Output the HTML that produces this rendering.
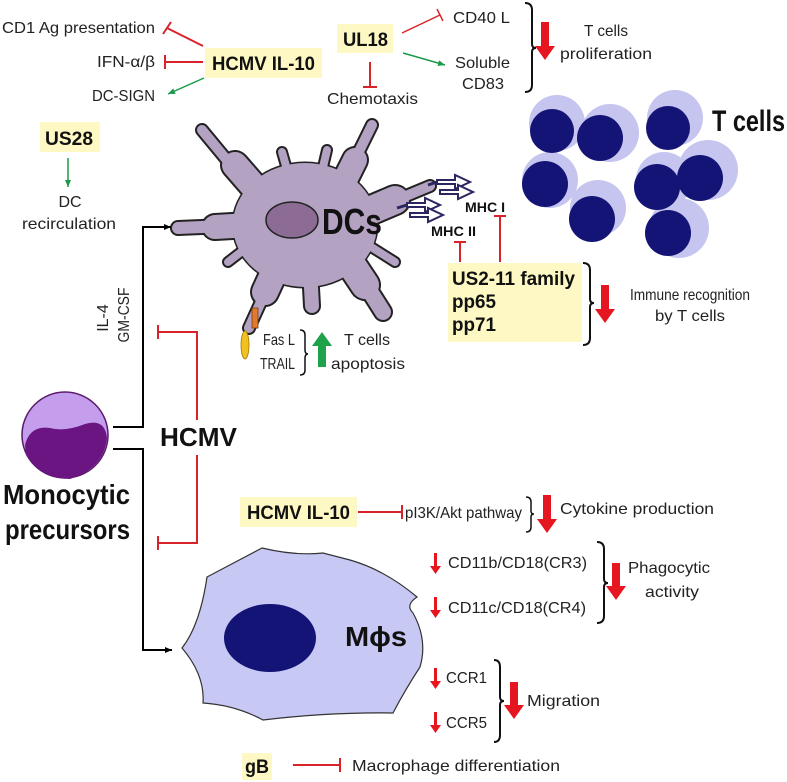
<!DOCTYPE html>
<html><head><meta charset="utf-8"><style>
html,body{margin:0;padding:0;background:#fff;}
svg{display:block;}
text{font-family:"Liberation Sans",sans-serif;fill:#222;}
.b{font-weight:bold;fill:#111;}
</style></head><body>
<svg width="787" height="782" viewBox="0 0 787 782" xmlns="http://www.w3.org/2000/svg">
<defs>
<marker id="ab" markerWidth="8" markerHeight="8" refX="7" refY="4" orient="auto" markerUnits="userSpaceOnUse"><path d="M0,1 L7,4 L0,7 z" fill="#000"/></marker>
<marker id="ag" markerWidth="8" markerHeight="8" refX="7" refY="4" orient="auto" markerUnits="userSpaceOnUse"><path d="M0,1 L7,4 L0,7 z" fill="#1a9a4a"/></marker>
</defs>

<!-- top-left group -->
<text x="2" y="33" font-size="16" textLength="153" lengthAdjust="spacingAndGlyphs">CD1 Ag presentation</text>
<text x="97" y="67" font-size="16" textLength="58" lengthAdjust="spacingAndGlyphs">IFN-α/β</text>
<text x="92" y="101" font-size="16" textLength="63" lengthAdjust="spacingAndGlyphs">DC-SIGN</text>
<line x1="203" y1="46" x2="167" y2="28" stroke="#d9232b" stroke-width="2"/>
<line x1="163" y1="34" x2="171" y2="22" stroke="#d9232b" stroke-width="2"/>
<line x1="203" y1="62" x2="165" y2="62" stroke="#d9232b" stroke-width="2"/>
<line x1="165" y1="55" x2="165" y2="69" stroke="#d9232b" stroke-width="2"/>
<line x1="204" y1="78" x2="168" y2="94" stroke="#1a9a4a" stroke-width="1.5" marker-end="url(#ag)"/>
<rect x="205" y="48" width="117" height="30" fill="#fdf8c4"/>
<text x="212" y="70" font-size="19" class="b" textLength="103" lengthAdjust="spacingAndGlyphs">HCMV IL-10</text>

<rect x="337" y="24" width="56" height="29" fill="#fdf8c4"/>
<text x="343" y="46" font-size="19" class="b" textLength="45" lengthAdjust="spacingAndGlyphs">UL18</text>
<line x1="370" y1="62" x2="370" y2="87" stroke="#d9232b" stroke-width="2"/>
<line x1="363" y1="87" x2="377" y2="87" stroke="#d9232b" stroke-width="2"/>
<text x="327" y="104" font-size="16" textLength="91" lengthAdjust="spacingAndGlyphs">Chemotaxis</text>
<line x1="402" y1="33" x2="440" y2="15" stroke="#d9232b" stroke-width="1.5"/>
<line x1="437" y1="9" x2="443" y2="21" stroke="#d9232b" stroke-width="1.5"/>
<line x1="403" y1="53" x2="445" y2="65" stroke="#1a9a4a" stroke-width="1.5" marker-end="url(#ag)"/>
<text x="453" y="23" font-size="16" textLength="57" lengthAdjust="spacingAndGlyphs">CD40 L</text>
<text x="455" y="68" font-size="16" textLength="55" lengthAdjust="spacingAndGlyphs">Soluble</text>
<text x="462" y="89" font-size="16" textLength="42" lengthAdjust="spacingAndGlyphs">CD83</text>
<path d="M525,3 Q532,3 532,10 L532,44 Q532,48 536,48 Q532,48 532,52 L532,85 Q532,92 525,92" fill="none" stroke="#111" stroke-width="2"/>
<path d="M541,22 L549,22 L549,46 L555,46 L545,60 L535,46 L541,46 z" fill="#e5161f"/>
<text x="584" y="36" font-size="16" textLength="44" lengthAdjust="spacingAndGlyphs">T cells</text>
<text x="560" y="59" font-size="16" textLength="92" lengthAdjust="spacingAndGlyphs">proliferation</text>

<!-- US28 -->
<rect x="40" y="122" width="60" height="30" fill="#fdf8c4"/>
<text x="45" y="145" font-size="19" class="b" textLength="48" lengthAdjust="spacingAndGlyphs">US28</text>
<line x1="68" y1="158" x2="68" y2="187" stroke="#1a9a4a" stroke-width="1.5" marker-end="url(#ag)"/>
<text x="70" y="207" font-size="16" text-anchor="middle">DC</text>
<text x="22" y="229" font-size="16" textLength="94" lengthAdjust="spacingAndGlyphs">recirculation</text>

<!-- T cells -->
<g>
<circle cx="557" cy="123" r="28" fill="#c5c5ef"/>
<circle cx="610" cy="133" r="29" fill="#c5c5ef"/>
<circle cx="675" cy="118" r="28" fill="#c5c5ef"/>
<circle cx="550" cy="180" r="28" fill="#c5c5ef"/>
<circle cx="598" cy="208" r="28" fill="#c5c5ef"/>
<circle cx="664" cy="180" r="28" fill="#c5c5ef"/>
<circle cx="708" cy="170" r="30" fill="#c5c5ef"/>
<circle cx="679" cy="228" r="30" fill="#c5c5ef"/>
<circle cx="552" cy="131" r="22" fill="#141476"/>
<circle cx="600" cy="138" r="23" fill="#141476"/>
<circle cx="668" cy="128" r="22" fill="#141476"/>
<circle cx="545" cy="184" r="23" fill="#141476"/>
<circle cx="592" cy="219" r="23" fill="#141476"/>
<circle cx="657" cy="187" r="23" fill="#141476"/>
<circle cx="700" cy="178" r="23" fill="#141476"/>
<circle cx="668" cy="233" r="23" fill="#141476"/>
</g>
<text x="712" y="131" font-size="30" class="b" textLength="73" lengthAdjust="spacingAndGlyphs">T cells</text>

<!-- DC cell -->
<g stroke-linecap="round" stroke-linejoin="round">
<g stroke="#222" fill="#222">
<ellipse cx="305" cy="225" rx="72" ry="62" stroke-width="3"/>
<line x1="260" y1="200" x2="202" y2="130" stroke-width="14"/>
<line x1="262" y1="196" x2="235" y2="165" stroke-width="30"/>
<line x1="340" y1="190" x2="372" y2="125" stroke-width="14"/>
<line x1="340" y1="190" x2="355" y2="160" stroke-width="28"/>
<line x1="290" y1="180" x2="282" y2="152" stroke-width="12"/>
<line x1="320" y1="180" x2="327" y2="150" stroke-width="12"/>
<line x1="360" y1="215" x2="430" y2="186" stroke-width="14"/>
<line x1="355" y1="217" x2="395" y2="200" stroke-width="32"/>
<line x1="250" y1="225" x2="178" y2="228" stroke-width="16"/>
<line x1="250" y1="225" x2="215" y2="227" stroke-width="28"/>
<line x1="280" y1="260" x2="249" y2="328" stroke-width="14"/>
<line x1="282" y1="255" x2="265" y2="292" stroke-width="30"/>
<line x1="310" y1="270" x2="312" y2="306" stroke-width="18"/>
<line x1="350" y1="260" x2="383" y2="312" stroke-width="20"/>
<line x1="345" y1="255" x2="365" y2="285" stroke-width="32"/>
<line x1="250" y1="245" x2="228" y2="262" stroke-width="12"/>
<line x1="360" y1="240" x2="395" y2="262" stroke-width="12"/>
</g>
<g stroke="#b4a2c2" fill="#b4a2c2">
<ellipse cx="305" cy="225" rx="72" ry="62" stroke-width="0"/>
<line x1="260" y1="200" x2="202" y2="130" stroke-width="10"/>
<line x1="262" y1="196" x2="235" y2="165" stroke-width="26"/>
<line x1="340" y1="190" x2="372" y2="125" stroke-width="10"/>
<line x1="340" y1="190" x2="355" y2="160" stroke-width="24"/>
<line x1="290" y1="180" x2="282" y2="152" stroke-width="8"/>
<line x1="320" y1="180" x2="327" y2="150" stroke-width="8"/>
<line x1="360" y1="215" x2="430" y2="186" stroke-width="10"/>
<line x1="355" y1="217" x2="395" y2="200" stroke-width="28"/>
<line x1="250" y1="225" x2="178" y2="228" stroke-width="12"/>
<line x1="250" y1="225" x2="215" y2="227" stroke-width="24"/>
<line x1="280" y1="260" x2="249" y2="328" stroke-width="10"/>
<line x1="282" y1="255" x2="265" y2="292" stroke-width="26"/>
<line x1="310" y1="270" x2="312" y2="306" stroke-width="14"/>
<line x1="350" y1="260" x2="383" y2="312" stroke-width="16"/>
<line x1="345" y1="255" x2="365" y2="285" stroke-width="28"/>
<line x1="250" y1="245" x2="228" y2="262" stroke-width="8"/>
<line x1="360" y1="240" x2="395" y2="262" stroke-width="8"/>
</g>
</g>
<ellipse cx="292" cy="220" rx="26" ry="18" fill="#8c6b95" stroke="#222" stroke-width="1.5"/>
<text x="322" y="234" font-size="36" class="b" textLength="60" lengthAdjust="spacingAndGlyphs">DCs</text>
<rect x="252" y="308" width="6" height="20" fill="#e07b2e" stroke="#7a3d10" stroke-width="0.8"/>
<ellipse cx="245" cy="345" rx="4" ry="14" fill="#f2c01f" stroke="#a07800" stroke-width="0.8"/>

<!-- MHC arrows -->
<g fill="#fff" stroke="#2a2660" stroke-width="2" stroke-linejoin="miter">
<path d="M437,180 L455,180 L455,175 L470,182 L455,189 L455,184 L437,184 z"/>
<path d="M440,190 L458,190 L458,185 L473,192 L458,199 L458,194 L440,194 z"/>
<path d="M407,203 L425,203 L425,198 L440,205 L425,212 L425,207 L407,207 z"/>
<path d="M410,213 L428,213 L428,208 L443,215 L428,222 L428,217 L410,217 z"/>
</g>
<line x1="428" y1="185" x2="437" y2="182" stroke="#2a2660" stroke-width="3"/>
<line x1="397" y1="208" x2="407" y2="205" stroke="#2a2660" stroke-width="3"/>
<text x="465" y="212" font-size="14" class="b" textLength="40" lengthAdjust="spacingAndGlyphs">MHC I</text>
<text x="431" y="236" font-size="14" class="b" textLength="45" lengthAdjust="spacingAndGlyphs">MHC II</text>
<line x1="460" y1="262" x2="460" y2="242" stroke="#d9232b" stroke-width="2"/>
<line x1="454" y1="242" x2="466" y2="242" stroke="#d9232b" stroke-width="2"/>
<line x1="500" y1="262" x2="500" y2="216" stroke="#d9232b" stroke-width="2"/>
<line x1="494" y1="216" x2="506" y2="216" stroke="#d9232b" stroke-width="2"/>
<rect x="448" y="263" width="134" height="79" fill="#fdf8c4"/>
<text x="452" y="285" font-size="19" class="b" textLength="123" lengthAdjust="spacingAndGlyphs">US2-11 family</text>
<text x="452" y="308" font-size="19" class="b" textLength="44" lengthAdjust="spacingAndGlyphs">pp65</text>
<text x="452" y="331" font-size="19" class="b" textLength="44" lengthAdjust="spacingAndGlyphs">pp71</text>
<path d="M583,263 Q590,263 590,270 L590,299 Q590,303 594,303 Q590,303 590,307 L590,338 Q590,345 583,345" fill="none" stroke="#111" stroke-width="2"/>
<path d="M601,285 L609,285 L609,309 L615,309 L605,323 L595,309 L601,309 z" fill="#e5161f"/>
<text x="630" y="300" font-size="16" textLength="120" lengthAdjust="spacingAndGlyphs">Immune recognition</text>
<text x="655" y="321" font-size="16" textLength="70" lengthAdjust="spacingAndGlyphs">by T cells</text>

<!-- Fas L / TRAIL -->
<text x="263" y="345" font-size="16" textLength="32" lengthAdjust="spacingAndGlyphs">Fas L</text>
<text x="260" y="369" font-size="16" textLength="35" lengthAdjust="spacingAndGlyphs">TRAIL</text>
<path d="M300,330 Q305,330 305,335 L305,350 Q305,354 308,354 Q305,354 305,358 L305,370 Q305,375 300,375" fill="none" stroke="#111" stroke-width="1.5"/>
<path d="M318,367 L326,367 L326,346 L332,346 L322,332 L312,346 L318,346 z" fill="#1fa34a"/>
<text x="344" y="345" font-size="16" textLength="46" lengthAdjust="spacingAndGlyphs">T cells</text>
<text x="331" y="369" font-size="16" textLength="74" lengthAdjust="spacingAndGlyphs">apoptosis</text>

<!-- IL-4 GM-CSF -->
<text transform="translate(108,318) rotate(-90)" font-size="16" text-anchor="middle">IL-4</text>
<text transform="translate(129,315) rotate(-90)" font-size="16" text-anchor="middle" textLength="55" lengthAdjust="spacingAndGlyphs">GM-CSF</text>

<!-- black connectors -->
<polyline points="113,427 143,427 143,227 171,227" fill="none" stroke="#000" stroke-width="2" marker-end="url(#ab)"/>
<polyline points="113,449 143,449 143,650 172,650" fill="none" stroke="#000" stroke-width="2" marker-end="url(#ab)"/>

<!-- HCMV red bracket -->
<polyline points="158,332 197,332 197,420" fill="none" stroke="#d9232b" stroke-width="2"/>
<polyline points="197,455 197,543 158,543" fill="none" stroke="#d9232b" stroke-width="2"/>
<line x1="158" y1="325" x2="158" y2="339" stroke="#d9232b" stroke-width="2"/>
<line x1="158" y1="536" x2="158" y2="550" stroke="#d9232b" stroke-width="2"/>
<text x="160" y="446" font-size="26" class="b" textLength="77" lengthAdjust="spacingAndGlyphs">HCMV</text>

<!-- monocyte -->
<circle cx="65" cy="435" r="43" fill="#c59ded" stroke="#5a1a6a" stroke-width="1.5"/>
<path d="M25,445 Q30,425 50,428 Q65,432 85,424 Q105,418 107,438 Q104,468 70,479 Q40,478 26,455 z" fill="#6a1582"/>
<text x="3" y="504" font-size="28" class="b" textLength="127" lengthAdjust="spacingAndGlyphs">Monocytic</text>
<text x="5" y="539" font-size="28" class="b" textLength="125" lengthAdjust="spacingAndGlyphs">precursors</text>

<!-- HCMV IL-10 lower -->
<rect x="240" y="497" width="117" height="30" fill="#fdf8c4"/>
<text x="247" y="519" font-size="19" class="b" textLength="103" lengthAdjust="spacingAndGlyphs">HCMV IL-10</text>
<line x1="358" y1="512" x2="402" y2="512" stroke="#d9232b" stroke-width="2"/>
<line x1="402" y1="505" x2="402" y2="519" stroke="#d9232b" stroke-width="2"/>
<text x="405" y="518" font-size="16" textLength="117" lengthAdjust="spacingAndGlyphs">pI3K/Akt pathway</text>
<path d="M526,497 Q531,497 531,502 L531,511 Q531,514 534,514 Q531,514 531,517 L531,527 Q531,532 526,532" fill="none" stroke="#111" stroke-width="1.5"/>
<path d="M543,495 L551,495 L551,519 L557,519 L547,533 L537,519 L543,519 z" fill="#e5161f"/>
<text x="560" y="514" font-size="16" textLength="154" lengthAdjust="spacingAndGlyphs">Cytokine production</text>

<!-- macrophage -->
<path d="M207,577 L262,548 Q295,556 323,553 L350,560 Q385,570 417,597 Q405,605 413,613 Q428,640 420,667 Q405,690 393,713 Q330,712 263,720 Q235,705 203,703 Q205,675 182,648 Q200,625 207,577 z" fill="#c8c8f5" stroke="#333" stroke-width="1.2"/>
<ellipse cx="270" cy="638" rx="46" ry="34" fill="#141476"/>
<text x="345" y="646" font-size="28" class="b" textLength="62" lengthAdjust="spacingAndGlyphs">Mϕs</text>

<g fill="#e5161f">
<path d="M434,553 L437,553 L437,566 L441,566 L435.5,574 L430,566 L434,566 z"/>
<path d="M434,597 L437,597 L437,610 L441,610 L435.5,618 L430,610 L434,610 z"/>
<path d="M434,668 L437,668 L437,681 L441,681 L435.5,689 L430,681 L434,681 z"/>
<path d="M434,712 L437,712 L437,725 L441,725 L435.5,733 L430,725 L434,725 z"/>
</g>
<text x="448" y="568" font-size="16" textLength="139" lengthAdjust="spacingAndGlyphs">CD11b/CD18(CR3)</text>
<text x="448" y="613" font-size="16" textLength="138" lengthAdjust="spacingAndGlyphs">CD11c/CD18(CR4)</text>
<path d="M597,542 Q604,542 604,549 L604,579 Q604,583 608,583 Q604,583 604,587 L604,616 Q604,623 597,623" fill="none" stroke="#111" stroke-width="2"/>
<path d="M612,563 L620,563 L620,586 L626,586 L616,600 L606,586 L612,586 z" fill="#e5161f"/>
<text x="628" y="573" font-size="16" textLength="82" lengthAdjust="spacingAndGlyphs">Phagocytic</text>
<text x="645" y="597" font-size="16" textLength="54" lengthAdjust="spacingAndGlyphs">activity</text>
<text x="446" y="683" font-size="16" textLength="41" lengthAdjust="spacingAndGlyphs">CCR1</text>
<text x="446" y="728" font-size="16" textLength="41" lengthAdjust="spacingAndGlyphs">CCR5</text>
<path d="M494,660 Q500,660 500,667 L500,697 Q500,701 504,701 Q500,701 500,705 L500,735 Q500,742 494,742" fill="none" stroke="#111" stroke-width="2"/>
<path d="M510,682 L518,682 L518,705 L524,705 L514,719 L504,705 L510,705 z" fill="#e5161f"/>
<text x="527" y="706" font-size="16" textLength="73" lengthAdjust="spacingAndGlyphs">Migration</text>

<rect x="242" y="753" width="30" height="27" fill="#fdf8c4"/>
<text x="245" y="773" font-size="19" class="b" textLength="24" lengthAdjust="spacingAndGlyphs">gB</text>
<line x1="293" y1="765" x2="340" y2="765" stroke="#d9232b" stroke-width="2"/>
<line x1="340" y1="758" x2="340" y2="772" stroke="#d9232b" stroke-width="2"/>
<text x="352" y="771" font-size="16" textLength="208" lengthAdjust="spacingAndGlyphs">Macrophage differentiation</text>
</svg>
</body></html>
